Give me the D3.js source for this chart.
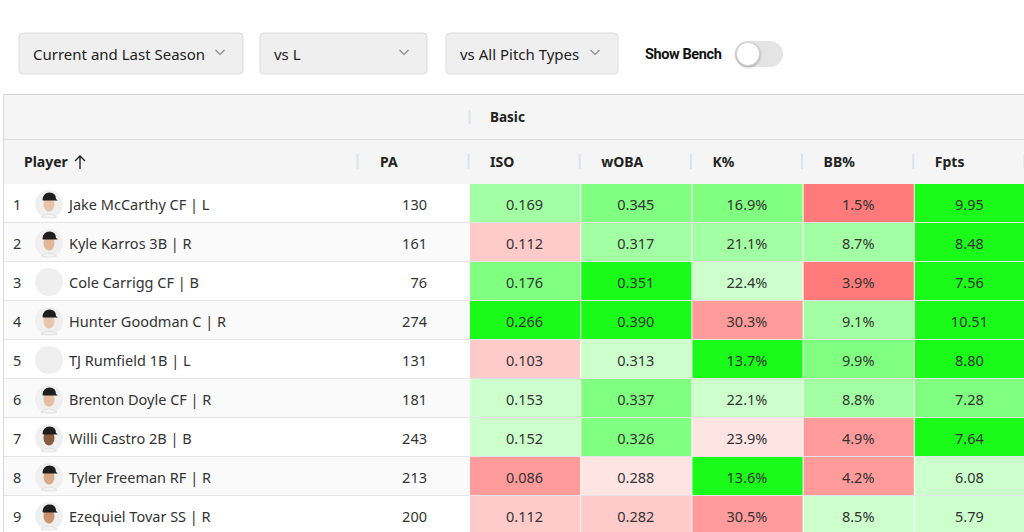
<!DOCTYPE html>
<html>
<head>
<meta charset="utf-8">
<script src="https://cdn.jsdelivr.net/npm/d3@7"></script>
<style>
  body { margin: 0; background: #fff; }
  svg { display: block; font-family: "Noto Sans", "Open Sans", sans-serif; }
</style>
</head>
<body>
<svg id="chart"></svg>
<script>
// table values
var players = ["Jake McCarthy CF | L", "Kyle Karros 3B | R", "Cole Carrigg CF | B", "Hunter Goodman C | R",
               "TJ Rumfield 1B | L", "Brenton Doyle CF | R", "Willi Castro 2B | B", "Tyler Freeman RF | R",
               "Ezequiel Tovar SS | R"];
var hasPhoto = [true, true, false, true, false, true, true, true, true];
var skinTone = ["#e8c3a6", "#e2b594", "", "#e9c4a8", "", "#e6bc9c", "#8a5a3c", "#d9a985", "#c9946c"];
var pa = [130, 161, 76, 274, 131, 181, 243, 213, 200];
var iso = ["0.169", "0.112", "0.176", "0.266", "0.103", "0.153", "0.152", "0.086", "0.112"];
var woba = ["0.345", "0.317", "0.351", "0.390", "0.313", "0.337", "0.326", "0.288", "0.282"];
var kPct = ["16.9%", "21.1%", "22.4%", "30.3%", "13.7%", "22.1%", "23.9%", "13.6%", "30.5%"];
var bbPct = ["1.5%", "8.7%", "3.9%", "9.1%", "9.9%", "8.8%", "4.9%", "4.2%", "8.5%"];
var fpts = ["9.95", "8.48", "7.56", "10.51", "8.80", "7.28", "7.64", "6.08", "5.79"];

// colour tier of every stat cell (+4 best green ... -4 worst red)
var isoTier  = [2, -2, 3, 4, -2, 1, 1, -3, -2];
var wobaTier = [3, 2, 4, 4, 1, 3, 3, -1, -2];
var kTier    = [3, 2, 1, -3, 4, 1, -1, 4, -3];
var bbTier   = [-4, 2, -4, 2, 3, 2, -3, -3, 1];
var fptsTier = [4, 4, 4, 4, 4, 3, 4, 1, 1];

var statCols = ["ISO", "wOBA", "K%", "BB%", "Fpts"];
var statValues = [iso, woba, kPct, bbPct, fpts];
var statTiers = [isoTier, wobaTier, kTier, bbTier, fptsTier];

var filters = ["Current and Last Season", "vs L", "vs All Pitch Types"];

var width = 1024, height = 532;
var svg = d3.select("#chart").attr("width", width).attr("height", height);

var tierColor = d3.scaleOrdinal()
  .domain([4, 3, 2, 1, -1, -2, -3, -4])
  .range(["#1afb1a", "#80ff80", "#a3ffa3", "#ccffcc", "#ffe4e4", "#ffcaca", "#ff9b9b", "#ff7b7b"]);

// ---- filter bar ----
var dropX = [19, 260, 446];
var dropW = [224, 167, 172];
var drops = svg.selectAll("g.drop")
  .data(filters)
  .enter()
  .append("g")
  .attr("class", "drop")
  .attr("transform", function(d, i) { return "translate(" + dropX[i] + ",33)"; });

drops.append("rect")
  .attr("width", function(d, i) { return dropW[i]; })
  .attr("height", 41)
  .attr("rx", 4)
  .attr("fill", "#efefef")
  .attr("stroke", "#dcdcdc");

drops.append("text")
  .attr("x", 14)
  .attr("y", 27)
  .attr("font-size", 15)
  .attr("fill", "#222")
  .text(function(d) { return d; });

drops.append("path")
  .attr("d", function(d, i) {
    var cx = dropW[i] - 23;
    return "M" + (cx - 4.5) + ",17 L" + cx + ",21.5 L" + (cx + 4.5) + ",17";
  })
  .attr("fill", "none")
  .attr("stroke", "#888")
  .attr("stroke-width", 1.2);

svg.append("text")
  .attr("x", 645)
  .attr("y", 59)
  .style("font-family", "Roboto, sans-serif")
  .attr("font-weight", "bold")
  .attr("font-size", 14.5)
  .attr("letter-spacing", -0.4)
  .attr("fill", "#111")
  .text("Show Bench");

svg.append("rect")
  .attr("x", 735).attr("y", 41)
  .attr("width", 48).attr("height", 26)
  .attr("rx", 13)
  .attr("fill", "#e4e4e4");
svg.append("circle")
  .attr("cx", 748).attr("cy", 54).attr("r", 11.5)
  .attr("fill", "#fff")
  .attr("stroke", "#d0d0d0")
  .attr("stroke-width", 0.8)
  .style("filter", "drop-shadow(0px 1px 1.5px rgba(0,0,0,0.35))");

// ---- table ----
var tableTop = 94, groupH = 45, headH = 45;
var bodyTop = tableTop + groupH + headH;
var rowH = 39;

var x = d3.scaleBand().domain(statCols).range([469, 1024 + 1]);
var y = d3.scaleBand().domain(d3.range(players.length)).range([bodyTop, bodyTop + rowH * players.length]);

svg.append("rect")
  .attr("x", 3).attr("y", tableTop)
  .attr("width", width).attr("height", groupH + headH)
  .attr("fill", "#f5f5f5");
svg.append("line")
  .attr("x1", 3).attr("x2", width).attr("y1", tableTop + 0.5).attr("y2", tableTop + 0.5)
  .attr("stroke", "#d4d4d4");
svg.append("line")
  .attr("x1", 3).attr("x2", width).attr("y1", tableTop + groupH + 0.5).attr("y2", tableTop + groupH + 0.5)
  .attr("stroke", "#dcdcdc");
svg.append("line")
  .attr("x1", 3).attr("x2", width).attr("y1", bodyTop + 0.5).attr("y2", bodyTop + 0.5)
  .attr("stroke", "#d4d4d4");

// group header
svg.append("line")
  .attr("x1", 469.5).attr("x2", 469.5).attr("y1", tableTop + 16).attr("y2", tableTop + 30)
  .attr("stroke", "#dde3ea").attr("stroke-width", 2);
svg.append("text")
  .attr("x", 490).attr("y", tableTop + 28)
  .attr("font-size", 13.5).attr("font-weight", "bold").attr("fill", "#222")
  .text("Basic");

// column headers
var headers = [{name: "Player", x: 24, sep: 358}, {name: "PA", x: 380, sep: 469}];
statCols.forEach(function(c) {
  headers.push({name: c, x: x(c) + 21, sep: x(c) + x.bandwidth()});
});
var hy = tableTop + groupH;
svg.selectAll("text.head")
  .data(headers)
  .enter()
  .append("text")
  .attr("class", "head")
  .attr("x", function(d) { return d.x; })
  .attr("y", hy + 28)
  .attr("font-size", 14).attr("font-weight", "bold").attr("fill", "#222")
  .text(function(d) { return d.name; });
// sort arrow next to Player
svg.append("path")
  .attr("d", "M80," + (hy + 30) + " V" + (hy + 17) + " M75," + (hy + 22) + " L80," + (hy + 17) + " L85," + (hy + 22))
  .attr("fill", "none").attr("stroke", "#222").attr("stroke-width", 1.4);
svg.selectAll("line.sep")
  .data(headers)
  .enter()
  .append("line")
  .attr("class", "sep")
  .attr("x1", function(d) { return d.sep - 0.5; })
  .attr("x2", function(d) { return d.sep - 0.5; })
  .attr("y1", hy + 15).attr("y2", hy + 30)
  .attr("stroke", "#dde3ea").attr("stroke-width", 2);

// body rows
var rows = svg.selectAll("g.row")
  .data(players)
  .enter()
  .append("g")
  .attr("class", "row")
  .attr("transform", function(d, i) { return "translate(0," + y(i) + ")"; });

rows.append("rect")
  .attr("x", 3).attr("width", width).attr("height", rowH)
  .attr("fill", function(d, i) { return i % 2 == 1 ? "#fafafa" : "#fff"; });
rows.append("line")
  .attr("x1", 3).attr("x2", width).attr("y1", rowH - 0.5).attr("y2", rowH - 0.5)
  .attr("stroke", "#e6e6ea");

rows.append("text")
  .attr("x", 13).attr("y", 26)
  .attr("font-size", 14.5).attr("fill", "#333")
  .text(function(d, i) { return i + 1; });

// avatars
rows.append("circle")
  .attr("cx", 49).attr("cy", 20).attr("r", 14)
  .attr("fill", "#efefef");
var faces = rows.filter(function(d, i) { return hasPhoto[i]; });
faces.append("path")
  .attr("d", "M41,33 Q49,27 57,33 Q55,34 49,34 Q43,34 41,33 Z")
  .attr("fill", "#f4f4f4").attr("stroke", "#ccc").attr("stroke-width", 0.5);
faces.append("ellipse")
  .attr("cx", 49).attr("cy", 20).attr("rx", 5.5).attr("ry", 7.5)
  .attr("fill", function(d) { return skinTone[players.indexOf(d)]; });
faces.append("path")
  .attr("d", "M42.5,16 Q43,8.5 49.5,8.5 Q56,8.5 56,15 L58,16.5 L43,16.5 Z")
  .attr("fill", "#1e1e1e");

rows.append("text")
  .attr("x", 69).attr("y", 26)
  .attr("font-size", 14.5).attr("fill", "#333")
  .text(function(d) { return d; });

rows.append("text")
  .attr("x", 427).attr("y", 26)
  .attr("text-anchor", "end")
  .attr("font-size", 14.5).attr("fill", "#333")
  .text(function(d, i) { return pa[i]; });

// heat cells
statCols.forEach(function(c, ci) {
  rows.append("rect")
    .attr("x", x(c) + 1)
    .attr("y", 0)
    .attr("width", x.bandwidth() - 1)
    .attr("height", rowH - 1)
    .attr("fill", function(d, i) { return tierColor(statTiers[ci][i]); });
  rows.append("text")
    .attr("x", x(c) + x.bandwidth() / 2)
    .attr("y", 26)
    .attr("text-anchor", "middle")
    .attr("font-size", 14.5).attr("fill", "#333")
    .text(function(d, i) { return statValues[ci][i]; });
});

// left border of table
svg.append("line")
  .attr("x1", 3.5).attr("x2", 3.5).attr("y1", tableTop).attr("y2", height)
  .attr("stroke", "#d8d8d8");
</script>
</body>
</html>
